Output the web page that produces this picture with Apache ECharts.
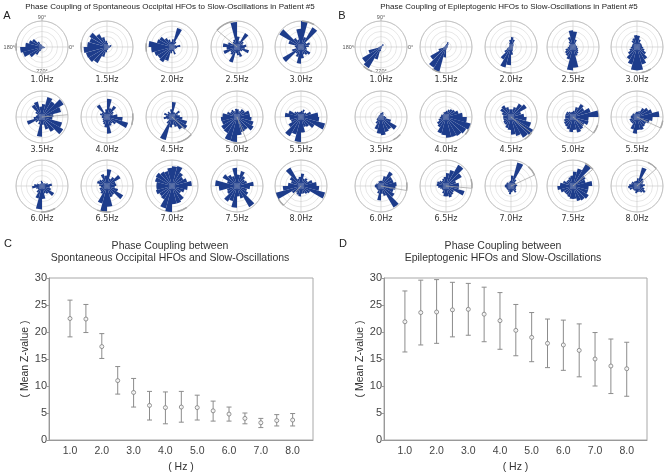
<!DOCTYPE html>
<html><head><meta charset="utf-8">
<script src="https://cdn.jsdelivr.net/npm/echarts@6/dist/echarts.min.js"></script>
<style>html,body{margin:0;padding:0;background:#fff}#c{width:667px;height:474px}</style>
</head><body><div id="c"></div>
<script>
// ---------- DATA ----------
const freqLabels = ['1.0Hz','1.5Hz','2.0Hz','2.5Hz','3.0Hz','3.5Hz','4.0Hz','4.5Hz','5.0Hz','5.5Hz','6.0Hz','6.5Hz','7.0Hz','7.5Hz','8.0Hz'];
const freqHz = [1.0,1.5,2.0,2.5,3.0,3.5,4.0,4.5,5.0,5.5,6.0,6.5,7.0,7.5,8.0];
const xTickValues = [1,2,3,4,5,6,7,8];
// 24 phase bins of 15 degrees (0..360, counter-clockwise from 0 deg)
const phaseBins = ['0-15','15-30','30-45','45-60','60-75','75-90','90-105','105-120','120-135','135-150','150-165','165-180','180-195','195-210','210-225','225-240','240-255','255-270','270-285','285-300','300-315','315-330','330-345','345-360'];

// Panel A: spontaneous occipital HFOs (relative counts, outer ring = 5)
const spont_1_0 = [0.4,0.3,0.2,0.2,0.2,0.3,0.4,0.6,1.2,2.2,2.6,3.2,4.2,3.8,2.8,1.8,0.8,0.4,0.3,0.3,0.3,0.4,0.5,0.6];
const spont_1_5 = [0.8,0.9,0.5,0.4,0.5,0.8,1.2,2.0,2.9,3.9,3.5,3.8,4.5,4.2,4.1,3.6,2.0,1.0,0.6,0.5,0.4,0.4,0.5,0.6];
const spont_2_0 = [1.6,0.8,0.6,1.2,3.8,1.5,1.0,1.5,2.0,2.8,3.0,4.5,4.0,3.5,3.2,3.4,2.8,1.2,0.8,1.5,0.8,0.6,0.8,1.0];
const spont_2_5 = [1.8,1.2,1.5,3.1,1.2,2.0,4.8,1.5,1.2,1.0,1.8,2.7,2.0,2.7,1.5,1.8,3.1,1.2,1.6,2.0,1.0,1.2,2.4,1.5];
const spont_3_0 = [1.5,1.8,1.2,4.4,2.0,5.0,3.5,1.5,2.0,4.8,2.5,1.2,1.0,1.8,4.1,1.5,2.0,3.2,2.2,1.5,1.8,2.1,1.2,1.0];
const spont_3_5 = [2.2,3.8,4.8,3.5,4.0,2.5,2.0,3.1,2.8,1.5,1.0,1.2,1.6,3.0,1.5,1.0,1.5,3.8,1.5,2.5,3.3,4.7,4.0,2.0];
const spont_4_0 = [2.0,1.2,1.5,2.5,1.8,3.5,1.5,1.0,2.8,1.2,1.4,1.0,1.0,0.8,1.0,1.2,1.5,2.0,3.2,1.8,1.5,2.0,4.2,3.0];
const spont_4_5 = [1.5,1.2,1.8,1.0,1.0,2.9,1.5,0.8,1.2,1.0,1.6,1.2,1.6,1.0,0.8,1.5,4.6,2.0,1.5,2.0,2.8,3.4,3.0,2.0];
const spont_5_0 = [2.5,2.5,1.8,1.8,1.2,1.5,1.6,1.2,1.6,1.5,2.0,2.8,3.1,3.0,3.5,3.6,4.7,4.8,3.5,3.0,2.9,3.7,3.3,2.8];
const spont_5_5 = [3.3,2.0,1.2,1.0,1.5,1.2,1.0,1.0,1.2,1.5,2.5,3.1,2.2,2.0,2.8,4.3,3.5,4.8,3.0,2.0,2.2,3.0,4.8,3.5];
const spont_6_0 = [1.9,1.2,0.8,0.6,0.6,0.8,1.0,0.6,0.5,0.6,1.0,1.5,1.9,1.2,1.0,1.5,2.5,4.5,2.5,1.5,1.8,2.7,1.8,1.5];
const spont_6_5 = [1.8,1.7,3.0,2.0,1.5,3.2,2.0,2.4,1.5,1.8,2.0,1.5,1.2,1.5,1.5,1.8,3.5,5.0,4.0,2.2,2.0,3.6,2.2,1.5];
const spont_7_0 = [3.8,3.0,2.5,3.0,4.0,3.8,3.5,3.0,3.2,3.6,3.4,3.0,3.0,3.2,2.8,3.0,4.5,5.0,3.5,3.5,3.2,2.0,2.5,3.0];
const spont_7_5 = [3.2,2.0,1.8,2.2,3.0,2.2,3.5,2.0,2.5,3.2,2.0,4.2,3.5,2.0,2.2,3.5,3.0,4.2,2.0,2.5,4.7,2.5,2.0,2.5];
const spont_8_0 = [3.0,2.3,1.5,1.8,1.5,2.4,1.8,1.5,4.1,2.5,2.0,2.5,3.5,5.0,2.0,1.5,1.8,2.0,1.5,1.5,1.8,2.0,4.8,3.5];
const spontRoses = [spont_1_0,spont_1_5,spont_2_0,spont_2_5,spont_3_0,spont_3_5,spont_4_0,spont_4_5,spont_5_0,spont_5_5,spont_6_0,spont_6_5,spont_7_0,spont_7_5,spont_8_0];
const spontMeanDir = [null,null,null,140,null,5,null,318,292,null,null,null,null,null,228];
const spontArcs = [[172,188],[170,192],[172,190],[100,140],[60,88],null,[-18,8],[282,318],[262,292],[258,285],[268,300],[248,278],[282,305],null,[210,228]];

// Panel B: epileptogenic HFOs
const epi_1_0 = [0.2,0.2,0.6,0.7,0.3,0.2,0.2,0.2,0.2,0.2,0.2,0.3,0.5,2.5,4.2,4.7,2.5,0.8,0.4,0.2,0.2,0.2,0.2,0.2];
const epi_1_5 = [0.3,0.4,0.5,0.8,1.0,0.6,0.4,0.3,0.3,0.3,0.3,0.3,0.5,1.5,3.5,4.6,5.0,2.0,0.5,0.3,0.3,0.3,0.3,0.3];
const epi_2_0 = [0.4,0.5,0.6,0.8,1.5,1.9,1.4,0.8,0.5,0.4,0.4,0.4,0.5,0.8,1.5,2.8,4.1,3.5,1.5,0.8,0.6,0.5,0.4,0.4];
const epi_2_5 = [0.8,0.7,0.7,0.8,1.5,3.0,3.2,2.0,1.2,0.8,0.8,0.8,1.0,1.5,1.8,2.0,2.5,4.5,4.0,1.8,1.5,1.2,1.0,0.8];
const epi_3_0 = [1.0,1.0,1.0,1.0,1.5,2.2,2.3,1.8,1.5,1.0,1.0,1.0,1.2,1.5,2.0,2.8,3.5,4.5,4.5,3.5,2.8,2.0,1.5,1.2];
const epi_3_5 = [0.8,0.6,0.5,0.8,1.0,0.8,0.7,0.5,0.5,0.5,0.5,0.5,0.6,0.8,1.0,1.5,2.5,3.2,3.5,3.0,2.8,3.5,2.0,1.0];
const epi_4_0 = [3.2,2.5,2.0,1.8,1.5,1.2,1.0,1.0,0.8,0.8,1.0,1.0,1.2,1.5,2.0,2.3,3.3,3.5,4.0,4.0,4.2,4.5,4.9,4.0];
const epi_4_5 = [2.5,2.0,3.5,3.0,2.0,1.5,1.5,2.0,2.6,2.4,1.8,1.5,1.5,1.5,1.7,1.8,2.2,2.5,3.4,3.8,4.6,4.9,4.0,3.0];
const epi_5_0 = [4.9,3.5,2.5,2.9,2.0,1.2,1.0,1.0,1.2,1.5,1.5,1.5,1.5,1.8,2.0,2.2,2.5,2.9,2.5,3.1,2.8,2.5,3.1,3.0];
const epi_5_5 = [4.3,3.0,2.5,2.0,1.2,1.0,1.0,0.8,0.8,1.0,1.0,1.2,1.2,1.5,1.5,1.5,2.5,3.2,2.5,2.6,2.2,2.0,2.5,3.0];
const epi_6_0 = [3.0,2.5,2.5,3.2,2.0,1.0,1.0,1.0,0.8,0.8,1.0,1.2,1.2,1.0,1.0,1.0,1.5,2.8,1.5,2.0,4.8,3.0,2.5,2.8];
const epi_6_5 = [2.5,2.0,3.5,4.7,3.2,2.5,1.8,1.5,1.2,1.5,1.8,1.8,1.5,1.2,1.0,1.0,1.5,2.0,2.0,2.3,2.0,1.8,3.7,2.5];
const epi_7_0 = [1.2,1.0,1.0,1.5,4.7,2.0,1.0,0.8,0.8,1.0,1.0,1.2,1.2,1.0,1.0,1.0,1.2,1.6,1.2,1.0,1.5,1.2,1.0,1.0];
const epi_7_5 = [3.7,2.5,2.8,4.9,3.5,2.8,2.0,1.8,1.5,1.5,2.0,2.5,3.0,2.5,2.0,2.0,2.2,2.5,2.5,3.0,3.2,3.5,3.0,3.0];
const epi_8_0 = [1.5,1.2,1.5,1.8,3.7,1.5,1.0,1.0,1.0,1.2,1.2,1.5,1.7,1.5,1.0,1.0,1.0,1.4,1.2,1.2,1.5,1.9,1.5,1.2];
const epiRoses = [epi_1_0,epi_1_5,epi_2_0,epi_2_5,epi_3_0,epi_3_5,epi_4_0,epi_4_5,epi_5_0,epi_5_5,epi_6_0,epi_6_5,epi_7_0,epi_7_5,epi_8_0];
const epiMeanDir = [null,null,null,null,null,null,null,322,322,335,350,355,25,40,42];
const epiArcs = [[228,250],[238,258],[252,272],[262,280],[280,302],[298,318],[318,332],[302,322],[322,342],[335,352],[350,368],[-5,15],[25,48],[40,62],[42,65]];

// Panel C / D: mean Z-value with error bars
const meanC = [22.5,22.4,17.3,11.0,8.8,6.4,6.0,6.1,6.0,5.4,4.8,4.0,3.2,3.6,3.7];
const lowC  = [19.1,19.9,15.1,8.5,6.1,3.7,3.0,3.3,3.7,3.5,3.5,3.0,2.3,2.6,2.6];
const highC = [25.9,25.1,19.7,13.6,11.4,9.0,8.9,9.0,8.3,7.2,6.1,5.0,4.0,4.7,4.9];
const meanD = [21.9,23.6,23.7,24.1,24.2,23.3,22.1,20.3,19.0,17.9,17.6,16.6,15.0,13.7,13.2];
const lowD  = [16.3,17.6,17.9,19.1,19.4,18.2,16.8,15.6,14.5,13.4,12.9,11.7,10.0,8.6,8.1];
const highD = [27.6,29.6,29.7,29.2,29.0,28.3,27.3,25.1,23.6,22.4,22.2,21.5,19.9,18.7,18.1];

// ---------- LAYOUT ----------
const FONT = '"Liberation Sans", Arial, sans-serif';
const LFONT = '"DejaVu Sans", sans-serif';
const BAR = '#1d3c8b';
const RMAX = 5, R = 26;
const colsA = [42,107,172,237,301];
const colsB = [381,446,511,573,637];
const rowsY = [47,117,186];

const polar = [], angleAxis = [], radiusAxis = [], series = [], graphic = [];

function txt(text, x, y, size, color, family) {
  graphic.push({type:'text', x:x, y:y, silent:true,
    style:{text:text, fill:color||'#222', font:size+'px '+(family||FONT), align:'center', verticalAlign:'middle'}});
}

function addRose(cx, cy, data, label, showDeg, meanDir, arc) {
  const gi = polar.length;
  polar.push({center:[cx,cy], radius:R});
  angleAxis.push({polarIndex:gi, type:'value', min:0, max:360, interval:90, startAngle:0, clockwise:false,
    axisLine:{show:true, lineStyle:{color:'#c4c4c4', width:1}},
    axisTick:{show:showDeg, length:2, lineStyle:{color:'#aaa'}},
    splitLine:{show:true, lineStyle:{color:'#cdcdcd', width:0.7}},
    axisLabel:{show:showDeg, margin:1, fontSize:5.5, color:'#555', fontFamily:FONT,
      formatter:function(v){return (v===360||v===270)?'':v+'°';}}});
  radiusAxis.push({polarIndex:gi, type:'value', min:0, max:RMAX, interval:1,
    axisLine:{show:false}, axisTick:{show:false}, axisLabel:{show:false},
    splitLine:{show:true, lineStyle:{color:'#dcdcdc', width:0.7}}});
  const bi = polar.length;
  polar.push({center:[cx,cy], radius:R});
  angleAxis.push({polarIndex:bi, type:'category', data:phaseBins, startAngle:0, clockwise:false, boundaryGap:true, show:false});
  radiusAxis.push({polarIndex:bi, type:'value', min:0, max:RMAX, show:false});
  series.push({type:'bar', coordinateSystem:'polar', polarIndex:bi, data:data, barCategoryGap:'0%',
    itemStyle:{color:BAR}, silent:true, z:3});
  if (arc) {
    series.push({type:'custom', coordinateSystem:'polar', polarIndex:gi, silent:true, z:4,
      dimensions:['radius','angle','angle2'], encode:{radius:0, angle:1},
      data:[[RMAX, arc[0], arc[1]]],
      renderItem:function(params, api){
        const a1 = api.value(1), a2 = api.value(2);
        const c = api.coord([0, a1]);
        const p = api.coord([api.value(0), a1]);
        const rr = Math.hypot(p[0]-c[0], p[1]-c[1]);
        return {type:'arc', shape:{cx:c[0], cy:c[1], r:rr, startAngle:-a2*Math.PI/180, endAngle:-a1*Math.PI/180, clockwise:true},
          style:{stroke:'#a8a8a8', lineWidth:1.5, fill:null}};
      }});
  }
  if (meanDir !== null) {
    series.push({type:'line', coordinateSystem:'polar', polarIndex:gi, data:[[0, meanDir],[RMAX, meanDir]],
      symbol:'none', silent:true, z:5, lineStyle:{color:'#a8a8a8', width:0.8}});
  }
  if (showDeg) txt('270°', cx, cy + R - 2, 5.5, '#555');
  txt(label, cx, cy+33, 8, '#333', LFONT);
}

for (let i = 0; i < 15; i++) {
  const r = Math.floor(i/5), c = i%5;
  addRose(colsA[c], rowsY[r], spontRoses[i], freqLabels[i], i===0, spontMeanDir[i], spontArcs[i]);
  addRose(colsB[c], rowsY[r], epiRoses[i], freqLabels[i], i===0, epiMeanDir[i], epiArcs[i]);
}

txt('Phase Coupling of Spontaneous Occipital HFOs to Slow-Oscillations in Patient #5', 170, 7, 8, '#222');
txt('Phase Coupling of Epileptogenic HFOs to Slow-Oscillations in Patient #5', 509, 7, 8, '#222');
txt('A', 7, 16, 11, '#222');
txt('B', 342, 16, 11, '#222');
txt('C', 8, 244, 11, '#222');
txt('D', 343, 244, 11, '#222');
txt('Phase Coupling between', 170, 246, 10.5, '#333');
txt('Spontaneous Occipital HFOs and Slow-Oscillations', 170, 258, 10.5, '#333');
txt('Phase Coupling between', 503, 246, 10.5, '#333');
txt('Epileptogenic HFOs and Slow-Oscillations', 503, 258, 10.5, '#333');

// ---------- CARTESIAN PANELS ----------
const grids = [
  {left:49, top:278, width:264, height:165, show:true, borderColor:'#a8a8a8', borderWidth:1},
  {left:384, top:278, width:263, height:166, show:true, borderColor:'#a8a8a8', borderWidth:1}
];
function mkX(g){
  return {gridIndex:g, type:'value', min:0.34, max:8.64, name:'( Hz )', nameLocation:'middle', nameGap:22,
    nameTextStyle:{fontSize:10.5, color:'#333', fontFamily:FONT},
    axisLine:{show:true, lineStyle:{color:'#999'}}, axisTick:{show:false}, splitLine:{show:false},
    axisLabel:{customValues:xTickValues, margin:6, fontSize:10.5, color:'#444', fontFamily:FONT,
      formatter:function(v){return v.toFixed(1);}}};
}
function mkY(g){
  return {gridIndex:g, type:'value', min:0, max:30, interval:5, name:'( Mean Z-value )', nameLocation:'middle', nameGap:14, nameRotate:90,
    nameTextStyle:{fontSize:10.5, color:'#333', fontFamily:FONT},
    axisLine:{show:true, lineStyle:{color:'#999'}}, axisTick:{show:true, length:2, lineStyle:{color:'#999'}}, splitLine:{show:false},
    axisLabel:{margin:2, fontSize:11, color:'#444', fontFamily:FONT}};
}
function errSeries(g, lo, hi){
  return {type:'custom', xAxisIndex:g, yAxisIndex:g, silent:true, z:2,
    encode:{x:0, y:[1,2]},
    data:freqHz.map(function(f,i){return [f, lo[i], hi[i]];}),
    renderItem:function(params, api){
      const x = api.value(0);
      const a = api.coord([x, api.value(1)]), b = api.coord([x, api.value(2)]);
      const st = {stroke:'#8c8c8c', lineWidth:1};
      const w = 2.5;
      return {type:'group', children:[
        {type:'line', shape:{x1:a[0], y1:a[1], x2:b[0], y2:b[1]}, style:st},
        {type:'line', shape:{x1:a[0]-w, y1:a[1], x2:a[0]+w, y2:a[1]}, style:st},
        {type:'line', shape:{x1:b[0]-w, y1:b[1], x2:b[0]+w, y2:b[1]}, style:st}
      ]};
    }};
}
function meanSeries(g, m){
  return {type:'scatter', xAxisIndex:g, yAxisIndex:g, silent:true, z:3,
    data:freqHz.map(function(f,i){return [f, m[i]];}),
    symbol:'circle', symbolSize:4, itemStyle:{color:'#fff', borderColor:'#7a7a7a', borderWidth:1}};
}
series.push(errSeries(0, lowC, highC), meanSeries(0, meanC), errSeries(1, lowD, highD), meanSeries(1, meanD));

const chart = echarts.init(document.getElementById('c'), null, {renderer:'canvas'});
chart.setOption({
  animation:false,
  backgroundColor:'#fff',
  polar:polar, angleAxis:angleAxis, radiusAxis:radiusAxis,
  grid:grids, xAxis:[mkX(0), mkX(1)], yAxis:[mkY(0), mkY(1)],
  series:series, graphic:graphic
});
</script></body></html>
